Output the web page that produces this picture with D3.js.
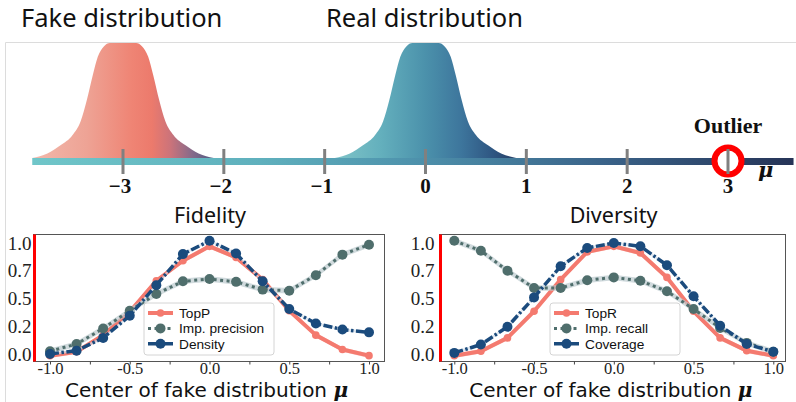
<!DOCTYPE html>
<html>
<head>
<meta charset="utf-8">
<script src="https://cdn.jsdelivr.net/npm/d3@7"></script>
<style>
  body { margin: 0; background: #fff; }
  svg { display: block; }
</style>
</head>
<body>
<svg id="fig" width="796" height="402"></svg>
<script>
(() => {
  // ---- top sketch data ----
  const muTicks = [-3, -2, -1, 0, 1, 2, 3];
  const fakeCenter = -3;
  const realCenter = 0;
  const outlierAt = 3;
  // bell outline: offset from centre (mu) and relative height
  const bellOffsets = [-0.9, -0.75, -0.62, -0.5, -0.42, -0.36, -0.3, -0.25, -0.19, -0.13, 0,
    0.13, 0.19, 0.25, 0.3, 0.36, 0.42, 0.5, 0.62, 0.75, 0.9];
  const bellHeights = [0, 0.04, 0.11, 0.2, 0.32, 0.5, 0.72, 0.88, 0.97, 1, 1,
    1, 0.97, 0.88, 0.72, 0.5, 0.32, 0.2, 0.11, 0.04, 0];

  // ---- bottom plots data ----
  const centers = [-1, -5 / 6, -4 / 6, -3 / 6, -2 / 6, -1 / 6, 0, 1 / 6, 2 / 6, 3 / 6, 4 / 6, 5 / 6, 1];
  const xTickVals = [-1, -0.75, -0.5, -0.25, 0, 0.25, 0.5, 0.75, 1];
  const yTickVals = [0, 0.25, 0.5, 0.75, 1];
  const yTickLabels = ['0.0', '0.2', '0.5', '0.7', '1.0'];

  const topP = [-0.015, 0.02, 0.17, 0.38, 0.66, 0.84, 0.97, 0.87, 0.67, 0.39, 0.17, 0.04, -0.015];
  const impPrecision = [0.025, 0.09, 0.23, 0.39, 0.54, 0.655, 0.675, 0.65, 0.58, 0.57, 0.71, 0.895, 0.985];
  const density = [0, 0.03, 0.145, 0.345, 0.62, 0.9, 1.02, 0.905, 0.655, 0.405, 0.275, 0.22, 0.195];

  const topR = [-0.015, 0.025, 0.145, 0.385, 0.67, 0.92, 0.97, 0.91, 0.69, 0.385, 0.145, 0.03, -0.015];
  const impRecall = [1.02, 0.93, 0.75, 0.595, 0.595, 0.665, 0.69, 0.66, 0.565, 0.405, 0.235, 0.1, 0.02];
  const coverage = [0.01, 0.085, 0.245, 0.51, 0.79, 0.955, 1.0, 0.97, 0.8, 0.52, 0.255, 0.09, 0.02];

  const svg = d3.select('#fig');
  const defs = svg.append('defs');

  function gradient(id, x1, x2, stops) {
    const lg = defs.append('linearGradient')
        .attr('id', id)
        .attr('gradientUnits', 'userSpaceOnUse')
        .attr('x1', x1).attr('x2', x2).attr('y1', 0).attr('y2', 0);
    stops.forEach(s => lg.append('stop').attr('offset', s[0]).attr('stop-color', s[1]));
  }

  // faint frame of the sketch panel
  svg.append('path')
      .attr('d', 'M5.5,402V42.5H796')
      .attr('fill', 'none')
      .attr('stroke', '#dcdcdc');

  svg.append('text').attr('x', 21).attr('y', 27)
      .style('font', '25.5px "Noto Sans", sans-serif').attr('fill', '#111')
      .text('Fake distribution');
  svg.append('text').attr('x', 326).attr('y', 27)
      .style('font', '25.5px "Noto Sans", sans-serif').attr('fill', '#111')
      .text('Real distribution');

  const mu = d3.scaleLinear().domain([-3, 3]).range([123, 728]);
  const h = d3.scaleLinear().domain([0, 1]).range([158, 43]);

  // axis bar
  gradient('barGrad', mu(-3.9), mu(3.65), [
    [0, '#70c6c9'], [0.3, '#5fb0bd'], [0.5, '#4e92ac'], [0.75, '#3a6389'], [1, '#263457']]);
  svg.append('rect')
      .attr('x', mu(-3.9)).attr('y', 158)
      .attr('width', mu(3.65) - mu(-3.9)).attr('height', 7)
      .attr('fill', 'url(#barGrad)');

  const bell = bellOffsets.map((o, i) => [o, bellHeights[i]]);
  function drawBell(center, id, stops) {
    gradient(id, mu(center - 0.9), mu(center + 0.9), stops);
    svg.append('path')
        .datum(bell)
        .attr('fill', `url(#${id})`)
        .attr('d', d3.area()
            .x(d => mu(center + d[0]))
            .y0(h(0))
            .y1(d => h(d[1]))
            .curve(d3.curveMonotoneX));
  }
  drawBell(fakeCenter, 'fakeGrad', [
    [0, '#f2b8ab'], [0.3, '#eea395'], [0.55, '#ef8474'], [0.66, '#ec7a6c'],
    [0.76, '#cc737a'], [0.88, '#866a8a'], [1, '#4f5b82']]);
  drawBell(realCenter, 'realGrad', [
    [0, '#80c4c8'], [0.25, '#64b0bd'], [0.5, '#4b91ab'], [0.7, '#3d759c'],
    [0.87, '#2f5682'], [1, '#273f66']]);

  // outlier ring
  svg.append('circle')
      .attr('cx', mu(outlierAt)).attr('cy', 161).attr('r', 13.5)
      .attr('fill', '#fff').attr('stroke', '#ff0000').attr('stroke-width', 6);

  svg.append('g').selectAll('rect')
      .data(muTicks)
      .enter().append('rect')
      .attr('x', d => mu(d) - 1.5).attr('y', 149)
      .attr('width', 3).attr('height', 25)
      .attr('fill', '#808080');

  svg.append('g').selectAll('text')
      .data(muTicks)
      .enter().append('text')
      .attr('x', d => mu(d)).attr('y', 193)
      .attr('dx', d => d < 0 ? -3 : 0)
      .attr('text-anchor', 'middle')
      .style('font', 'bold 21px "Liberation Serif", serif')
      .attr('fill', '#111')
      .text(d => d < 0 ? '\u2212' + Math.abs(d) : d);

  svg.append('text')
      .attr('x', mu(outlierAt)).attr('y', 133)
      .attr('text-anchor', 'middle')
      .style('font', 'bold 22px "Liberation Serif", serif')
      .attr('fill', '#111')
      .text('Outlier');

  svg.append('text')
      .attr('x', 758).attr('y', 177)
      .style('font', 'bold italic 21px "DejaVu Serif", serif')
      .attr('fill', '#111')
      .text('\u03bc');

  // ---- plots ----
  const styles = [
    {color: '#f47a6f', width: 4, dash: null, r: 3.8, band: 0.02, bandColor: '#f8b3ab'},
    {color: '#4f6e6c', width: 3, dash: '3,3.5', r: 5, band: 0.025, bandColor: '#bccbcf'},
    {color: '#1b4b7d', width: 3.5, dash: '9,2.5,2.5,2.5', r: 5, band: 0.012, bandColor: '#cfdbe8'}
  ];

  const panels = [
    {title: 'Fidelity', left: 33.5, right: 384.5, xRange: [50, 369], pad: 2, legendX: 144,
      names: ['TopP', 'Imp. precision', 'Density'], series: [topP, impPrecision, density]},
    {title: 'Diversity', left: 439.5, right: 785.5, xRange: [454.3, 773.3], pad: 5, legendX: 550,
      names: ['TopR', 'Imp. recall', 'Coverage'], series: [topR, impRecall, coverage]}
  ];

  const top = 234.5, bottom = 361.5;

  panels.forEach(p => {
    const x = d3.scaleLinear().domain([-1, 1]).range(p.xRange);
    const y = d3.scaleLinear().domain([0, 1]).range([354, 243]);
    const g = svg.append('g');

    g.append('rect')
        .attr('x', p.left).attr('y', top)
        .attr('width', p.right - p.left).attr('height', bottom - top)
        .attr('fill', '#fff').attr('stroke', '#555').attr('stroke-width', 1);

    g.append('text')
        .attr('x', (p.left + p.right) / 2 + 1).attr('y', 223)
        .attr('text-anchor', 'middle')
        .style('font', '21.5px "Noto Sans", sans-serif')
        .attr('fill', '#111')
        .text(p.title);

    const yAxis = g.append('g')
        .attr('transform', `translate(${p.left},0)`)
        .call(d3.axisLeft(y).tickValues(yTickVals)
            .tickFormat((d, i) => yTickLabels[i])
            .tickSize(0).tickPadding(p.pad));
    yAxis.select('.domain').remove();
    yAxis.selectAll('text')
        .style('font', '19px "Liberation Serif", serif')
        .attr('fill', '#222');

    const xAxis = g.append('g')
        .attr('transform', `translate(0,${bottom})`)
        .call(d3.axisBottom(x).tickValues(xTickVals)
            .tickFormat(d => (Math.round(d * 4) % 2 === 0 ? d.toFixed(1) : ''))
            .tickSize(3).tickPadding(-2));
    xAxis.select('.domain').remove();
    xAxis.selectAll('line').attr('stroke', '#444');
    xAxis.selectAll('text')
        .style('font', '16.5px "Liberation Serif", serif')
        .attr('fill', '#222');

    // red marker on the left edge
    g.append('rect')
        .attr('x', p.left - 0.5).attr('y', top)
        .attr('width', 3).attr('height', bottom - top)
        .attr('fill', '#ff0000');

    const label = g.append('text')
        .attr('x', (p.xRange[0] + p.xRange[1]) / 2 - 3).attr('y', 397)
        .attr('text-anchor', 'middle')
        .style('font', '20px "DejaVu Sans", sans-serif')
        .attr('fill', '#111');
    label.append('tspan').text('Center of fake distribution ');
    label.append('tspan')
        .style('font', 'bold italic 20px "DejaVu Serif", serif')
        .text('\u03bc');

    p.series.forEach((vals, k) => {
      const s = styles[k];
      g.append('path')
          .datum(vals)
          .attr('fill', s.bandColor).attr('opacity', 0.7)
          .attr('d', d3.area()
              .x((d, i) => x(centers[i]))
              .y0(d => y(d - s.band))
              .y1(d => y(d + s.band)));
      g.append('path')
          .datum(vals)
          .attr('fill', 'none')
          .attr('stroke', s.color)
          .attr('stroke-width', s.width)
          .attr('stroke-dasharray', s.dash)
          .attr('stroke-linejoin', 'round')
          .attr('d', d3.line().x((d, i) => x(centers[i])).y(d => y(d)));
      g.append('g').selectAll('circle')
          .data(vals)
          .enter().append('circle')
          .attr('cx', (d, i) => x(centers[i]))
          .attr('cy', d => y(d))
          .attr('r', s.r)
          .attr('fill', s.color);
    });

    // legend
    const lg = g.append('g').attr('transform', `translate(${p.legendX},303)`);
    lg.append('rect')
        .attr('width', 130).attr('height', 52).attr('rx', 3)
        .attr('fill', '#fff').attr('fill-opacity', 0.85)
        .attr('stroke', '#d4d4d4');
    const item = lg.selectAll('g.item')
        .data(p.names)
        .enter().append('g')
        .attr('class', 'item')
        .attr('transform', (d, i) => `translate(0,${10 + i * 15.4})`);
    item.append('line')
        .attr('x1', 4).attr('x2', 29)
        .attr('stroke', (d, i) => styles[i].color)
        .attr('stroke-width', (d, i) => styles[i].width)
        .attr('stroke-dasharray', (d, i) => styles[i].dash);
    item.append('circle')
        .attr('cx', 16.5)
        .attr('r', (d, i) => styles[i].r)
        .attr('fill', (d, i) => styles[i].color);
    item.append('text')
        .attr('x', 35).attr('dy', '0.35em')
        .style('font', '13.7px "Liberation Sans", sans-serif')
        .attr('fill', '#111')
        .text(d => d);
  });
})();
</script>
</body>
</html>
